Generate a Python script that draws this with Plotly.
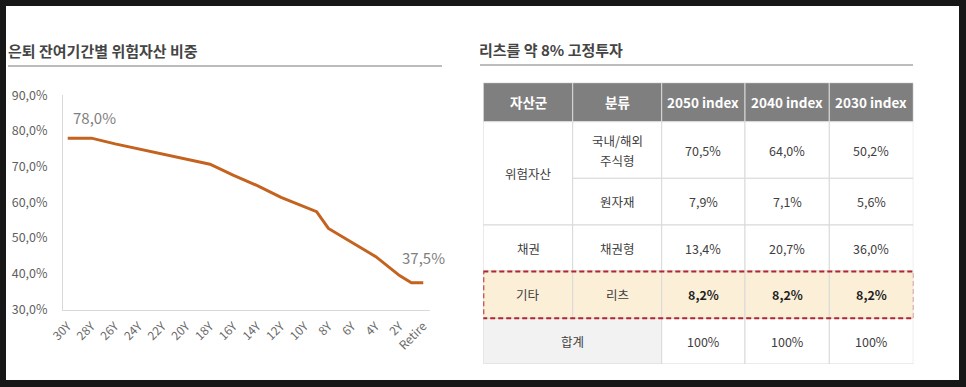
import plotly.graph_objects as go

W, H = 966, 387

# ---------------- data ----------------
years_left = [30, 28, 26, 24, 22, 20, 18, 16, 14, 12, 10, 9, 8, 6, 4, 2, 1, 0]
risk_share = [78.0, 78.0, 76.4, 75.0, 73.5, 72.1, 70.7, 67.6, 64.7, 61.4,
              58.8, 57.4, 52.7, 48.7, 44.8, 39.5, 37.5, 37.5]
tick_years = [30, 28, 26, 24, 22, 20, 18, 16, 14, 12, 10, 8, 6, 4, 2, 0]
tick_labels = ["30Y", "28Y", "26Y", "24Y", "22Y", "20Y", "18Y", "16Y", "14Y",
               "12Y", "10Y", "8Y", "6Y", "4Y", "2Y", "Retire"]
y_ticks = [30, 40, 50, 60, 70, 80, 90]

left_title = "은퇴 잔여기간별 위험자산 비중"
right_title = "리츠를 약 8% 고정투자"

table_header = ["자산군", "분류", "2050 index", "2040 index", "2030 index"]
asset_groups = ["위험자산", "채권", "기타"]
group_sizes = [2, 1, 1]
asset_types = ["국내/해외<br>주식형", "원자재", "채권형", "리츠"]
idx_2050 = [70.5, 7.9, 13.4, 8.2]
idx_2040 = [64.0, 7.1, 20.7, 8.2]
idx_2030 = [50.2, 5.6, 36.0, 8.2]
total_label = "합계"
totals = [100, 100, 100]
highlight_type = "리츠"

# ---------------- layout constants ----------------
FONT = "Noto Sans CJK KR, Noto Sans, sans-serif"
LINE_COLOR = "#c4621f"
GRAY_TXT = "#5f5f5f"
COL_W = [89.4, 89.0, 83.3, 84.3, 84.0]
ROW_H = [39.0, 56.6, 46.7, 46.0, 47.3, 45.7]
LINE_GAP = 20  # px between wrapped lines in a cell


def px(x):
    return x / W


def py(y):
    return 1 - y / H


def fmt(v):
    return f"{v:.1f}%".replace(".", ",")


col_edges = [0]
for w in COL_W:
    col_edges.append(col_edges[-1] + w)
row_edges = [0]
for h in ROW_H:
    row_edges.append(row_edges[-1] + h)

fig = go.Figure()

fig.add_trace(go.Scatter(
    x=years_left, y=risk_share, mode="lines",
    line=dict(color=LINE_COLOR, width=3),
    hoverinfo="skip", showlegend=False, xaxis="x", yaxis="y"))

shapes = []
annotations = []

# page background (white card on dark frame)
shapes.append(dict(type="rect", xref="paper", yref="paper",
                   x0=px(6), x1=px(959), y0=py(380), y1=py(6),
                   fillcolor="white", line=dict(width=0), layer="below"))

# titles + underlines
annotations.append(dict(text="<b>" + left_title + "</b>", xref="paper", yref="paper",
                        x=px(6), y=py(50.5), xanchor="left", yanchor="middle",
                        showarrow=False, font=dict(size=15, color="#454545")))
annotations.append(dict(text="<b>" + right_title + "</b>", xref="paper", yref="paper",
                        x=px(477), y=py(50), xanchor="left", yanchor="middle",
                        showarrow=False, font=dict(size=15, color="#454545")))
shapes.append(dict(type="line", xref="paper", yref="paper",
                   x0=px(8), x1=px(442), y0=py(66), y1=py(66),
                   line=dict(color="#a6a6a6", width=1.5)))
shapes.append(dict(type="line", xref="paper", yref="paper",
                   x0=px(480), x1=px(913), y0=py(65), y1=py(65),
                   line=dict(color="#a6a6a6", width=1.5)))

# data labels on first / last point
annotations.append(dict(text=fmt(risk_share[0]), x=years_left[0], y=risk_share[0],
                        xref="x", yref="y", xanchor="left", yanchor="middle",
                        xshift=3, yshift=21, showarrow=False,
                        font=dict(size=15, color="#7f7f7f")))
annotations.append(dict(text=fmt(risk_share[-1]), x=years_left[-1], y=risk_share[-1],
                        xref="x", yref="y", xanchor="center", yanchor="middle",
                        xshift=0, yshift=25, showarrow=False,
                        font=dict(size=15, color="#7f7f7f")))

# ---------------- table ----------------
GRID = "#d9d9d9"


def cell(c0, c1, r0, r1, fill):
    shapes.append(dict(type="rect", xref="x2", yref="y2",
                       x0=col_edges[c0], x1=col_edges[c1],
                       y0=row_edges[r0], y1=row_edges[r1],
                       fillcolor=fill, line=dict(color=GRID, width=1), layer="below"))


def text(c0, c1, r0, r1, s, size=12.5, color="#404040", bold=False):
    lines = s.split("<br>")
    n = len(lines)
    for k, ln in enumerate(lines):
        annotations.append(dict(text=("<b>%s</b>" % ln) if bold else ln,
                                xref="x2", yref="y2",
                                x=(col_edges[c0] + col_edges[c1]) / 2,
                                y=(row_edges[r0] + row_edges[r1]) / 2,
                                yshift=((n - 1) / 2 - k) * LINE_GAP,
                                xanchor="center", yanchor="middle", showarrow=False,
                                font=dict(size=size, color=color)))


# header
for c, h in enumerate(table_header):
    cell(c, c + 1, 0, 1, "#7f7f7f")
    text(c, c + 1, 0, 1, h, size=13.5, color="white", bold=True)

# body rows
BEIGE = "#fcefd8"
r = 1
for g, n in zip(asset_groups, group_sizes):
    hl_group = any(asset_types[i] == highlight_type for i in range(r - 1, r - 1 + n))
    cell(0, 1, r, r + n, BEIGE if hl_group else "white")
    text(0, 1, r, r + n, g)
    r += n

values = [idx_2050, idx_2040, idx_2030]
for i, t in enumerate(asset_types):
    rr = i + 1
    hl = t == highlight_type
    fill = BEIGE if hl else "white"
    cell(1, 2, rr, rr + 1, fill)
    text(1, 2, rr, rr + 1, t)
    for j, vals in enumerate(values):
        cell(2 + j, 3 + j, rr, rr + 1, fill)
        text(2 + j, 3 + j, rr, rr + 1, fmt(vals[i]),
             color="#1f1f1f" if hl else "#404040", bold=hl)

# total row
tr = len(asset_types) + 1
cell(0, 2, tr, tr + 1, "#f2f2f2")
text(0, 2, tr, tr + 1, total_label)
for j, v in enumerate(totals):
    cell(2 + j, 3 + j, tr, tr + 1, "white")
    text(2 + j, 3 + j, tr, tr + 1, f"{v}%")

# highlight dashed box
hr = asset_types.index(highlight_type) + 1
shapes.append(dict(type="rect", xref="x2", yref="y2",
                   x0=col_edges[0], x1=col_edges[-1] + 0.6,
                   y0=row_edges[hr] + 0.6, y1=row_edges[hr + 1],
                   fillcolor="rgba(0,0,0,0)",
                   line=dict(color="#b3262b", width=2, dash="5px,3px")))

fig.update_layout(
    template="none",
    width=W, height=H, margin=dict(l=0, r=0, t=0, b=0, autoexpand=False),
    paper_bgcolor="#171717", plot_bgcolor="white",
    font=dict(family=FONT, color=GRAY_TXT),
    showlegend=False,
    shapes=shapes, annotations=annotations,
    xaxis=dict(domain=[px(63), px(430)], range=[30.4, -0.57],
               tickmode="array", tickvals=tick_years, ticktext=tick_labels,
               tickangle=-45, tickfont=dict(size=12, color="#6a6a6a"),
               showline=True, linecolor="#d9d9d9", linewidth=1,
               showgrid=False, zeroline=False, ticks="", ticklabelstandoff=4,
               automargin=False, fixedrange=True),
    yaxis=dict(domain=[py(309.5), py(95.3)], range=[30, 90],
               tickmode="array", tickvals=y_ticks,
               ticktext=[fmt(v) for v in y_ticks],
               tickfont=dict(size=12.5, color="#5f5f5f"),
               showline=True, linecolor="#d9d9d9", linewidth=1,
               showgrid=False, zeroline=False, ticks="", ticklabelstandoff=12,
               automargin=False, fixedrange=True),
    xaxis2=dict(domain=[px(483.3), px(913.3)], range=[0, col_edges[-1]],
                visible=False, fixedrange=True, anchor="y2", automargin=False),
    yaxis2=dict(domain=[py(364), py(82.7)], range=[row_edges[-1], 0],
                visible=False, fixedrange=True, anchor="x2", automargin=False),
)

fig.write_html(
    "out.html",
    config={"displayModeBar": False},
    post_script="document.body.style.margin='0';document.body.style.overflow='hidden';",
)
